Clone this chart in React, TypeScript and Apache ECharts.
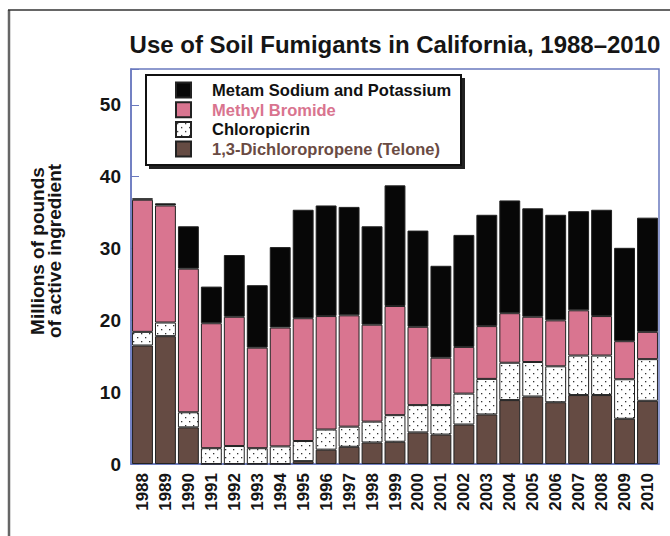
import React, { useEffect, useRef } from "react";
import * as echarts from "echarts";

const years = ["1988","1989","1990","1991","1992","1993","1994","1995","1996","1997","1998","1999","2000","2001","2002","2003","2004","2005","2006","2007","2008","2009","2010"];
const telone = [16.5, 17.8, 5.1, 0, 0, 0, 0, 0.4, 2.0, 2.4, 3.0, 3.1, 4.4, 4.1, 5.5, 6.9, 8.9, 9.4, 8.6, 9.6, 9.6, 6.3, 8.8];
const chloropicrin = [1.9, 1.9, 2.1, 2.2, 2.5, 2.2, 2.45, 2.8, 2.8, 2.8, 2.9, 3.7, 3.8, 4.1, 4.3, 4.95, 5.2, 4.8, 5.0, 5.5, 5.5, 5.5, 5.8];
const methylBromide = [18.4, 16.3, 20.0, 17.4, 18.0, 14.0, 16.55, 17.1, 15.8, 15.5, 13.5, 15.2, 10.9, 6.6, 6.5, 7.35, 6.9, 6.3, 6.4, 6.3, 5.5, 5.3, 3.8];
const metam = [0.2, 0.3, 5.9, 5.1, 8.6, 8.7, 11.2, 15.1, 15.4, 15.1, 13.7, 16.8, 13.4, 12.8, 15.6, 15.5, 15.7, 15.1, 14.7, 13.8, 14.8, 13.0, 15.9];
const yTicks = [0, 10, 20, 30, 40, 50];

const seriesNames = ["Metam Sodium and Potassium", "Methyl Bromide", "Chloropicrin", "1,3-Dichloropropene (Telone)"];

function makeDots(): HTMLCanvasElement {
  const c = document.createElement("canvas");
  c.width = 8;
  c.height = 8;
  const ctx = c.getContext("2d")!;
  ctx.fillStyle = "#ffffff";
  ctx.fillRect(0, 0, 8, 8);
  ctx.fillStyle = "#333333";
  ctx.fillRect(1, 1, 1.3, 1.3);
  ctx.fillRect(5, 5, 1.3, 1.3);
  return c;
}

export default function App() {
  const ref = useRef<HTMLDivElement>(null);
  useEffect(() => {
    if (!ref.current) return;
    const chart = echarts.init(ref.current, undefined, { renderer: "svg" });
    const dots = makeDots();
    const blue = "#6a79bf";
    const font = "'Liberation Sans', Arial, Helvetica, sans-serif";
    const border = { borderColor: "#222", borderWidth: 1 };
    const bar = (name: string, data: number[], color: any) => ({
      name,
      type: "bar",
      stack: "total",
      data,
      barWidth: "91%",
      itemStyle: { color, ...border },
    });
    chart.setOption({
      animation: false,
      backgroundColor: "#ffffff",
      title: {
        text: "Use of Soil Fumigants in California, 1988–2010",
        left: 390,
        top: 27,
        textAlign: "center",
        textStyle: { fontFamily: font, fontSize: 24, fontWeight: "bold", color: "#151515" },
      },
      legend: {
        orient: "vertical",
        left: 146,
        top: 75,
        data: [
          { name: seriesNames[0], textStyle: { color: "#111" } },
          { name: seriesNames[1], textStyle: { color: "#d9748f" } },
          { name: seriesNames[2], textStyle: { color: "#111" } },
          { name: seriesNames[3], textStyle: { color: "#6a4b43" } },
        ],
        icon: "rect",
        itemWidth: 15,
        itemHeight: 15,
        itemGap: 2.7,
        padding: [6.5, 11, 6.5, 29],
        textStyle: { fontFamily: font, fontSize: 16.5, fontWeight: "bold", padding: [0, 0, 0, 16] },
        selectedMode: false,
        z: 10,
      },
      graphic: [
        { type: "line", shape: { x1: 9, y1: 536, x2: 9, y2: 10 }, style: { stroke: "#666", lineWidth: 2.5 } },
        { type: "line", shape: { x1: 8, y1: 10, x2: 670, y2: 10 }, style: { stroke: "#333", lineWidth: 1.5 } },
        { type: "rect", shape: { x: 149, y: 78, width: 316, height: 91 }, style: { fill: "#222" }, z: 5 },
        { type: "rect", shape: { x: 146, y: 75, width: 315, height: 90 }, style: { fill: "#fff", stroke: "#111", lineWidth: 2 }, z: 6 },
        {
          type: "text",
          rotation: Math.PI / 2,
          x: 46,
          y: 251,
          style: {
            text: "Millions of pounds\nof active ingredient",
            font: "bold 19px " + font,
            fill: "#151515",
            align: "center",
            verticalAlign: "middle",
            lineHeight: 17,
          },
        },
      ],
      grid: {
        left: 131,
        right: 11,
        top: 69,
        bottom: 72,
        show: true,
        borderColor: blue,
        borderWidth: 1.5,
        containLabel: false,
      },
      xAxis: {
        type: "category",
        data: years,
        axisLine: { lineStyle: { color: blue, width: 1.5 } },
        axisTick: { show: false },
        axisLabel: {
          rotate: 90,
          margin: 9,
          fontFamily: font,
          fontSize: 17,
          fontWeight: "bold",
          color: "#151515",
        },
      },
      yAxis: {
        type: "value",
        min: 0,
        max: 55,
        interval: 10,
        axisLine: { show: true, lineStyle: { color: blue, width: 1.5 } },
        axisTick: { show: true, inside: true, length: 8, lineStyle: { color: blue } },
        splitLine: { show: false },
        axisLabel: {
          margin: 10,
          fontFamily: font,
          fontSize: 19,
          fontWeight: "bold",
          color: "#151515",
          formatter: (v: number) => (yTicks.includes(v) ? String(v) : ""),
        },
      },
      series: [
        bar(seriesNames[3], telone, "#654b43"),
        bar(seriesNames[2], chloropicrin, { image: dots, repeat: "repeat" }),
        bar(seriesNames[1], methylBromide, "#d97590"),
        bar(seriesNames[0], metam, "#070707"),
      ],
    });
    return () => chart.dispose();
  }, []);
  return (
    <div
      ref={ref}
      style={{ position: "fixed", left: 0, top: 0, width: 670, height: 536, background: "#fff" }}
    />
  );
}
